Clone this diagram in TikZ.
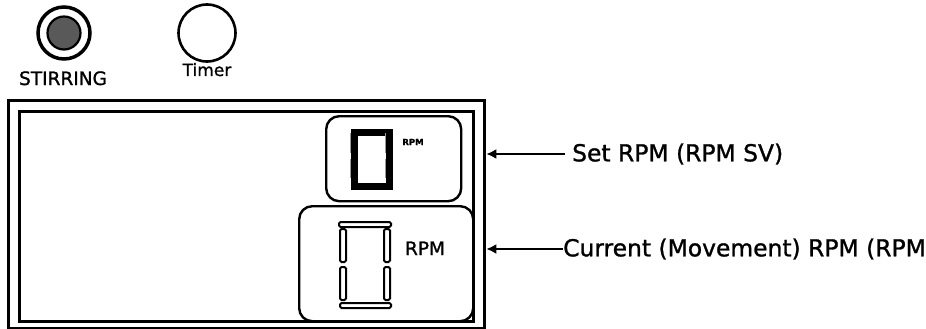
\documentclass[tikz,border=0pt]{standalone}
\usepackage{fontspec}
\setmainfont[FakeBold=1.2]{DejaVu Sans}
\usetikzlibrary{arrows.meta}
\begin{document}
\begin{tikzpicture}[x=1pt,y=-1pt,
  frame/.style={draw=black, line width=3.3pt, inner sep=0pt, anchor=north west},
  panel/.style={draw=black, line width=2.4pt, rounded corners=13pt, inner sep=0pt, anchor=north west},
  seg/.style={draw=black, fill=white, line width=2pt, rounded corners=1.5pt},
  lbl/.style={inner sep=0pt, font=\fontsize{23.4}{28}\selectfont},
  arr/.style={line width=2.4pt, -{Latex[length=10pt,width=10pt]}}]
\useasboundingbox (0,0) rectangle (926,329);

% indicator lamps
\node[circle, draw=black, line width=3.5pt, minimum size=52pt, inner sep=0pt] (stir) at (64,33) {};
\node[circle, draw=black, fill=black!65, line width=2.2pt, minimum size=33pt, inner sep=0pt] (stirlamp) at (64,33) {};
\node[circle, draw=black, line width=2.6pt, minimum size=57pt, inner sep=0pt] (timer) at (207,33) {};
\node[inner sep=0pt, anchor=base, font=\fontsize{18.5}{22}\selectfont] (stirlbl) at (63,85) {STIRRING};
\node[inner sep=0pt, anchor=base, font=\fontsize{17}{20}\selectfont] (timerlbl) at (207,76) {Timer};

% display frames
\node[panel, minimum width=174pt, minimum height=115pt] (curpanel) at (298,205) {};
\node[frame, minimum width=476pt, minimum height=228pt] (outer) at (7,99) {};
\node[frame, minimum width=454pt, minimum height=210pt] (inner) at (18,110) {};
\node[panel, minimum width=135pt, minimum height=85pt] (setpanel) at (325,115) {};

% small digit (set value)
\node[draw=black, line width=7pt, minimum width=35pt, minimum height=54pt, inner sep=0pt, anchor=north west] (setdigit) at (350.5,128.5) {};
\draw[black!40, line width=1.2pt] (350.5,133) -- (350.5,153) (350.5,159) -- (350.5,178)
      (385.5,133) -- (385.5,153) (385.5,159) -- (385.5,178);
\node[inner sep=0pt, font=\bfseries\fontsize{8.5}{10}\selectfont] (setunit) at (413,142) {RPM};

% large digit (current value)
\draw[seg] (339,222) rectangle (391,227);
\draw[seg] (340,303) rectangle (391,308);
\draw[seg] (340,229) rectangle (346,262);
\draw[seg] (340,267) rectangle (346,300);
\draw[seg] (384,229) rectangle (390,262);
\draw[seg] (384,267) rectangle (390,300);
\node[inner sep=0pt, anchor=base, font=\fontsize{18.5}{22}\selectfont] (curunit) at (425,255) {RPM};

% callouts
\node[lbl, anchor=west] (setlbl) at (572,154) {Set RPM (RPM SV)};
\node[lbl, anchor=west] (curlbl) at (563,249) {Current (Movement) RPM (RPM};
\draw[arr] ([xshift=-7pt]setlbl.west) -- (setlbl.west -| outer.east);
\draw[arr] (curlbl.west) -- (curlbl.west -| outer.east);
\end{tikzpicture}
\end{document}
